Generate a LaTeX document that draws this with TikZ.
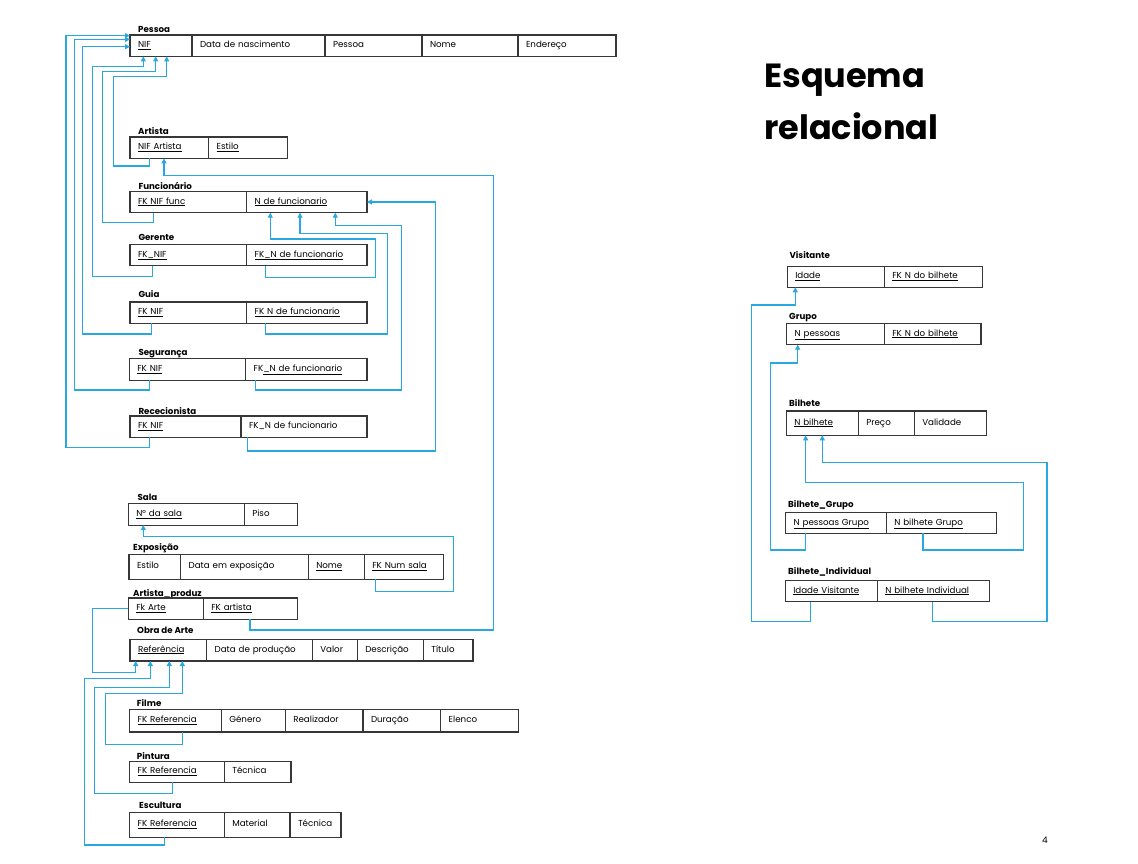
\documentclass[tikz,border=0pt]{standalone}
\usepackage{fontspec}
\setmainfont{Poppins}
\usetikzlibrary{positioning,arrows.meta}

\definecolor{linha}{RGB}{55,55,55}
\definecolor{seta}{RGB}{41,168,224}

\tikzset{
  cel/.style={draw=linha, line width=1.2pt, inner xsep=8pt, inner ysep=0pt,
    outer sep=0pt, minimum height=21.4pt, align=left, anchor=north west,
    text height=6.5pt, text depth=2.5pt,
    font=\fontsize{8.7}{10}\selectfont},
  rotulo/.style={anchor=base west, inner sep=0pt,
    font=\fontsize{8.7}{10}\selectfont\bfseries},
  fk/.style={draw=seta, line width=1.1pt, -{Triangle[width=5pt,length=5pt]}},
}

\begin{document}
\begin{tikzpicture}[x=1pt, y=-1pt]
  \path[fill=white, use as bounding box] (0,0) rectangle (1138,863);

  % --- Titulo ---
  \node[anchor=base west, inner sep=0pt, align=left,
    font=\fontsize{33.5}{51.6}\selectfont\bfseries] (titulo) at (764,139.3)
    {Esquema\\relacional};
  \node[inner sep=0pt, font=\fontsize{9}{10}\selectfont] (pagina) at (1045,840) {4};

  % --- Pessoa ---
  \node[rotulo] (lPessoa) at (138,32.5) {Pessoa};
  \node[cel, text width=46pt] (pNIF) at (130,35) {\underline{NIF}};
  \node[cel, text width=117pt, right=0pt of pNIF] (pData) {Data de nascimento};
  \node[cel, text width=81pt, right=0pt of pData] (pPessoa) {Pessoa};
  \node[cel, text width=80pt, right=0pt of pPessoa] (pNome) {Nome};
  \node[cel, text width=82pt, right=0pt of pNome] (pEnd) {Endereço};

  % --- Artista ---
  \node[rotulo] (lArtista) at (138,134.5) {Artista};
  \node[cel, text width=62.7pt] (aNIF) at (130,137) {\underline{NIF Artista}};
  \node[cel, text width=62.6pt, right=0pt of aNIF] (aEstilo) {\underline{Estilo}};

  % --- Funcionario e subtipos ---
  \node[rotulo] (lFunc) at (138.3,189) {Funcionário};
  \node[cel, text width=100.7pt] (fFK) at (130,191.3) {\underline{FK NIF func}};
  \node[cel, text width=104.3pt, right=0pt of fFK] (fN) {\underline{N de funcionario}};

  \node[rotulo] (lGerente) at (138.3,240) {Gerente};
  \node[cel, text width=100.7pt] (gFK) at (130,244.3) {\underline{FK\_NIF}};
  \node[cel, text width=104.3pt, right=0pt of gFK] (gN) {\underline{FK\_N de funcionario}};

  \node[rotulo] (lGuia) at (138.3,297.2) {Guia};
  \node[cel, text width=100.7pt] (guFK) at (130,302) {\underline{FK NIF}};
  \node[cel, text width=104.3pt, right=0pt of guFK] (guN) {\underline{FK N de funcionario}};

  \node[rotulo] (lSeg) at (138.3,355.5) {Segurança};
  \node[cel, text width=100.4pt] (sFK) at (129.3,358.7) {\underline{FK NIF}};
  \node[cel, text width=105.3pt, right=0pt of sFK] (sN) {FK\underline{\_N de funcionario}};

  \node[rotulo] (lRec) at (138.3,414.8) {Rececionista};
  \node[cel, text width=95pt] (rFK) at (130,416) {\underline{FK NIF}};
  \node[cel, text width=110pt, right=0pt of rFK] (rN) {FK\_N de funcionario};

  % --- Sala, Exposicao ---
  \node[rotulo] (lSala) at (137.3,500.2) {Sala};
  \node[cel, text width=100pt] (sNum) at (128.3,503.7) {\underline{N° da sala}};
  \node[cel, text width=37.4pt, right=0pt of sNum] (sPiso) {Piso};

  \node[rotulo] (lExpo) at (133,550) {Exposição};
  \node[cel, text width=35.7pt, minimum height=25pt] (eEstilo) at (129,554.3) {Estilo};
  \node[cel, text width=111.6pt, minimum height=25pt, right=0pt of eEstilo] (eData) {Data em exposição};
  \node[cel, text width=40pt, minimum height=25pt, right=0pt of eData] (eNome) {\underline{Nome}};
  \node[cel, text width=63pt, minimum height=25pt, right=0pt of eNome] (eSala) {\underline{FK Num sala}};

  % --- Artista_produz, Obra de Arte ---
  \node[rotulo] (lProduz) at (133,596.8) {Artista\_produz};
  \node[cel, text width=59pt] (apArte) at (128.3,598) {\underline{Fk Arte}};
  \node[cel, text width=78.4pt, right=0pt of apArte] (apArt) {\underline{FK artista}};

  \node[rotulo] (lObra) at (137,633.5) {Obra de Arte};
  \node[cel, text width=60.7pt, minimum height=21.7pt] (oRef) at (130,639.3) {\underline{Referência}};
  \node[cel, text width=89.6pt, minimum height=21.7pt, right=0pt of oRef] (oData) {Data de produção};
  \node[cel, text width=29pt, minimum height=21.7pt, right=0pt of oData] (oValor) {Valor};
  \node[cel, text width=50pt, minimum height=21.7pt, right=0pt of oValor] (oDesc) {Descrição};
  \node[cel, text width=33.7pt, minimum height=21.7pt, right=0pt of oDesc] (oTit) {Título};

  % --- Filme, Pintura, Escultura ---
  \node[rotulo] (lFilme) at (136.7,706.8) {Filme};
  \node[cel, text width=75.6pt, minimum height=22.3pt] (fiRef) at (129.7,709.7) {\underline{FK Referencia}};
  \node[cel, text width=48pt, minimum height=22.3pt, right=0pt of fiRef] (fiGen) {Género};
  \node[cel, text width=61.7pt, minimum height=22.3pt, right=0pt of fiGen] (fiReal) {Realizador};
  \node[cel, text width=61.7pt, minimum height=22.3pt, right=0pt of fiReal] (fiDur) {Duração};
  \node[cel, text width=62pt, minimum height=22.3pt, right=0pt of fiDur] (fiElenco) {Elenco};

  \node[rotulo] (lPintura) at (136.7,759.2) {Pintura};
  \node[cel, text width=78.6pt, minimum height=21pt] (piRef) at (129.7,761.3) {\underline{FK Referencia}};
  \node[cel, text width=50.7pt, minimum height=21pt, right=0pt of piRef] (piTec) {Técnica};

  \node[rotulo] (lEscultura) at (139,808.2) {Escultura};
  \node[cel, text width=78.6pt, minimum height=25pt] (esRef) at (129.7,812.3) {\underline{FK Referencia}};
  \node[cel, text width=49.7pt, minimum height=25pt, right=0pt of esRef] (esMat) {Material};
  \node[cel, text width=35pt, minimum height=25pt, right=0pt of esMat] (esTec) {Técnica};

  % --- Visitantes e bilhetes ---
  \node[rotulo] (lVisit) at (789.3,258.5) {Visitante};
  \node[cel, text width=81pt, minimum height=21pt] (vIdade) at (787.3,266.3) {\underline{Idade}};
  \node[cel, text width=82pt, minimum height=21pt, right=0pt of vIdade] (vFK) {\underline{FK N do bilhete}};

  \node[rotulo] (lGrupo) at (789,319.5) {Grupo};
  \node[cel, text width=81.6pt] (grN) at (786.7,323.3) {\underline{N pessoas}};
  \node[cel, text width=80.7pt, right=0pt of grN] (grFK) {\underline{FK N do bilhete}};

  \node[rotulo] (lBilhete) at (789,406.5) {Bilhete};
  \node[cel, text width=56pt, minimum height=24.3pt] (bN) at (786.3,411) {\underline{N bilhete}};
  \node[cel, text width=40pt, minimum height=24.3pt, right=0pt of bN] (bPreco) {Preço};
  \node[cel, text width=56pt, minimum height=24.3pt, right=0pt of bPreco] (bVal) {Validade};

  \node[rotulo] (lBG) at (788,507.5) {Bilhete\_Grupo};
  \node[cel, text width=84.6pt, minimum height=20.6pt] (bgN) at (785.7,512.7) {\underline{N pessoas Grupo}};
  \node[cel, text width=94.4pt, minimum height=20.6pt, right=0pt of bgN] (bgB) {\underline{N bilhete Grupo}};

  \node[rotulo] (lBI) at (788,574.2) {Bilhete\_Individual};
  \node[cel, text width=76pt, minimum height=21pt] (biIdade) at (785.3,580.7) {\underline{Idade Visitante}};
  \node[cel, text width=96.4pt, minimum height=21pt, right=0pt of biIdade] (biB) {\underline{N bilhete Individual}};

  % --- Chaves estrangeiras para Pessoa ---
  \draw[fk] ([xshift=19.3pt]rFK.south west) |- (66,447.7) |- ([yshift=10pt]pNIF.west);
  \draw[fk] ([xshift=20pt]sFK.south west) |- (74.3,390) |- ([yshift=6.3pt]pNIF.west);
  \draw[fk] ([xshift=21.3pt]guFK.south west) |- (82.3,334) |- ([yshift=-1pt]pNIF.west);
  \draw[fk] ([xshift=22.3pt]gFK.south west) |- (92.3,276.7) -- (92.3,66.7) -| ([xshift=13.3pt]pNIF.south west);
  \draw[fk] ([xshift=23.7pt]fFK.south west) |- (102.3,222.7) -- (102.3,71.7) -| ([xshift=25.7pt]pNIF.south west);
  \draw[fk] ([xshift=19.3pt]aNIF.south west) |- (113.3,166) -- (113.3,76.7) -| ([xshift=36.7pt]pNIF.south west);

  % --- Chaves estrangeiras para Funcionario ---
  \draw[fk] ([xshift=18.6pt]gN.south west) |- (375.3,277.3) -- (375.3,239) -| ([xshift=23.6pt]fN.south west);
  \draw[fk] ([xshift=18.6pt]guN.south west) |- (387.3,334) -- (387.3,233.3) -| ([xshift=53.3pt]fN.south west);
  \draw[fk] ([xshift=9.6pt]sN.south west) |- (401.3,390) -- (401.3,225.7) -| ([xshift=88.6pt]fN.south west);
  \draw[fk] ([xshift=6.3pt]rN.south west) |- (435.7,451) |- (fN.east);

  % --- Artista, Sala ---
  \draw[fk] ([xshift=46.7pt]apArt.south west) |- (493.3,630) -- (493.3,175.3) -| ([xshift=34pt]aNIF.south west);
  \draw[fk] ([xshift=11pt]eSala.south west) |- (453.7,591.3) -- (453.7,536.3) -| ([xshift=15pt]sNum.south west);

  % --- Chaves estrangeiras para Obra de Arte ---
  \draw[fk] (apArte.west) -| (92.3,672.3) -| ([xshift=5.7pt]oRef.south west);
  \draw[fk] ([xshift=34.6pt]esRef.south west) |- (84.3,845) -- (84.3,678.3) -| ([xshift=20.3pt]oRef.south west);
  \draw[fk] ([xshift=42.6pt]piRef.south west) |- (94.3,793.3) -- (94.3,687.3) -| ([xshift=39.3pt]oRef.south west);
  \draw[fk] ([xshift=52.6pt]fiRef.south west) |- (105.7,744.3) -- (105.7,693.3) -| ([xshift=52.3pt]oRef.south west);

  % --- Bilhetes ---
  \draw[fk] ([xshift=25pt]biIdade.south west) |- (751.7,621.7) -- (751.7,305) -| ([xshift=8pt]vIdade.south west);
  \draw[fk] ([xshift=20pt]bgN.south west) |- (770.3,550) -- (770.3,363) -| ([xshift=11pt]grN.south west);
  \draw[fk] ([xshift=36.7pt]bgB.south west) |- (1023.3,550) -- (1023.3,482.3) -| ([xshift=19.4pt]bN.south west);
  \draw[fk] ([xshift=55pt]biB.south west) |- (1047,621.7) -- (1047,462.3) -| ([xshift=36pt]bN.south west);
\end{tikzpicture}
\end{document}
